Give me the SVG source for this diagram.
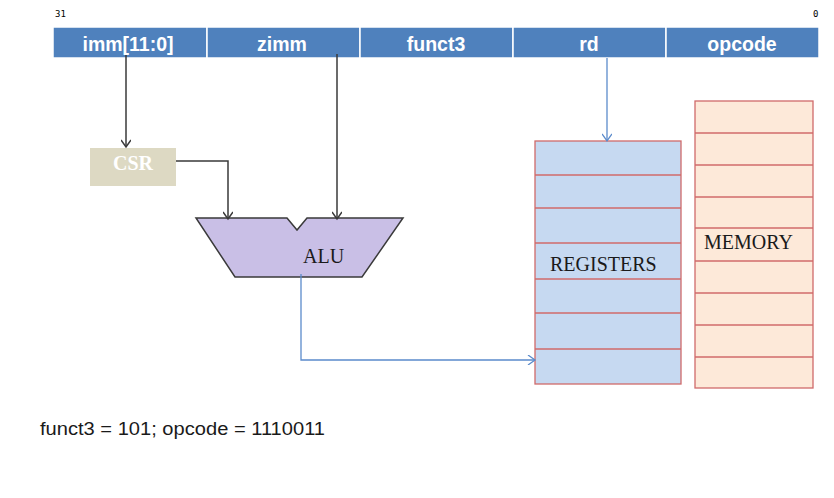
<svg xmlns="http://www.w3.org/2000/svg" width="834" height="498" viewBox="0 0 834 498">
<style>
.hdr{fill:#4f81bd;stroke:#fff;stroke-width:1.5}
.ht{font-family:"Liberation Sans",Arial,sans-serif;font-weight:bold;font-size:19.5px;fill:#fff;text-anchor:middle}
.ser{font-family:"Liberation Serif","Times New Roman",serif;font-size:20px;fill:#1a1a1a}
.blk{fill:none;stroke:#3a3a3a;stroke-width:1.5}
.blu{fill:none;stroke:#5b8bcb;stroke-width:1.3}
.reg{fill:#c6d9f1;stroke:#d06a6a;stroke-width:1.3}
.mem{fill:#fde9d9;stroke:#d06a6a;stroke-width:1.3}
.row{stroke:#d06a6a;stroke-width:1.3}
</style>
<defs>
<marker id="ak" markerWidth="10" markerHeight="10" refX="8" refY="5" orient="auto" markerUnits="userSpaceOnUse" viewBox="0 0 10 10">
<path d="M1,0 L8,5 L1,10" fill="none" stroke="#3a3a3a" stroke-width="1.5"/>
</marker>
<marker id="ab" markerWidth="10" markerHeight="10" refX="8" refY="5" orient="auto" markerUnits="userSpaceOnUse" viewBox="0 0 10 10">
<path d="M1,0 L8,5 L1,10" fill="none" stroke="#5b8bcb" stroke-width="1.3"/>
</marker>
</defs>
<rect width="834" height="498" fill="#fff"/>
<text x="55" y="17" font-family="'DejaVu Sans Mono',monospace" font-size="9" fill="#000">31</text>
<text x="813" y="17" font-family="'DejaVu Sans Mono',monospace" font-size="9" fill="#000">0</text>
<g id="header">
<rect class="hdr" x="53" y="27" width="154" height="31"/>
<rect class="hdr" x="207" y="27" width="153" height="31"/>
<rect class="hdr" x="360" y="27" width="153" height="31"/>
<rect class="hdr" x="513" y="27" width="153" height="31"/>
<rect class="hdr" x="666" y="27" width="153" height="31"/>
<text class="ht" x="128" y="51">imm[11:0]</text>
<text class="ht" x="282" y="51">zimm</text>
<text class="ht" x="436" y="51">funct3</text>
<text class="ht" x="589" y="51">rd</text>
<text class="ht" x="742" y="51">opcode</text>
</g>
<g id="csr">
<rect x="90" y="148" width="86" height="38" fill="#ddd9c3"/>
<text x="133" y="170" class="ser" font-weight="bold" style="fill:#fff" text-anchor="middle">CSR</text>
</g>
<g id="alu">
<path d="M196,218 L287,218 L297,230 L307,218 L403,218 L362,277 L235,277 Z" fill="#c9bfe6" stroke="#3a3a3a" stroke-width="1.5"/>
<text x="303" y="263" class="ser">ALU</text>
</g>
<g id="registers">
<rect class="reg" x="535" y="141" width="146" height="243"/>
<line class="row" x1="535" y1="175" x2="681" y2="175"/>
<line class="row" x1="535" y1="208" x2="681" y2="208"/>
<line class="row" x1="535" y1="243" x2="681" y2="243"/>
<line class="row" x1="535" y1="279" x2="681" y2="279"/>
<line class="row" x1="535" y1="313" x2="681" y2="313"/>
<line class="row" x1="535" y1="349" x2="681" y2="349"/>
<text x="550" y="271" class="ser">REGISTERS</text>
</g>
<g id="memory">
<rect class="mem" x="695" y="101" width="118" height="287"/>
<line class="row" x1="695" y1="133" x2="813" y2="133"/>
<line class="row" x1="695" y1="165" x2="813" y2="165"/>
<line class="row" x1="695" y1="197" x2="813" y2="197"/>
<line class="row" x1="695" y1="228" x2="813" y2="228"/>
<line class="row" x1="695" y1="261" x2="813" y2="261"/>
<line class="row" x1="695" y1="293" x2="813" y2="293"/>
<line class="row" x1="695" y1="325" x2="813" y2="325"/>
<line class="row" x1="695" y1="357" x2="813" y2="357"/>
<text x="704" y="249" class="ser">MEMORY</text>
</g>
<g id="connectors">
<path class="blk" d="M126,55 L126,147" marker-end="url(#ak)"/>
<path class="blk" d="M176,161 L228,161 L228,219" marker-end="url(#ak)"/>
<path class="blk" d="M337,54 L337,219" marker-end="url(#ak)"/>
<path class="blu" d="M607,58 L607,141" marker-end="url(#ab)"/>
<path class="blu" d="M301,274 L301,360 L535,360" marker-end="url(#ab)"/>
</g>
<text x="40" y="435" font-family="'Liberation Sans',Arial,sans-serif" font-size="18" fill="#1a1a1a" textLength="285" lengthAdjust="spacingAndGlyphs">funct3 = 101; opcode = 1110011</text>
</svg>
